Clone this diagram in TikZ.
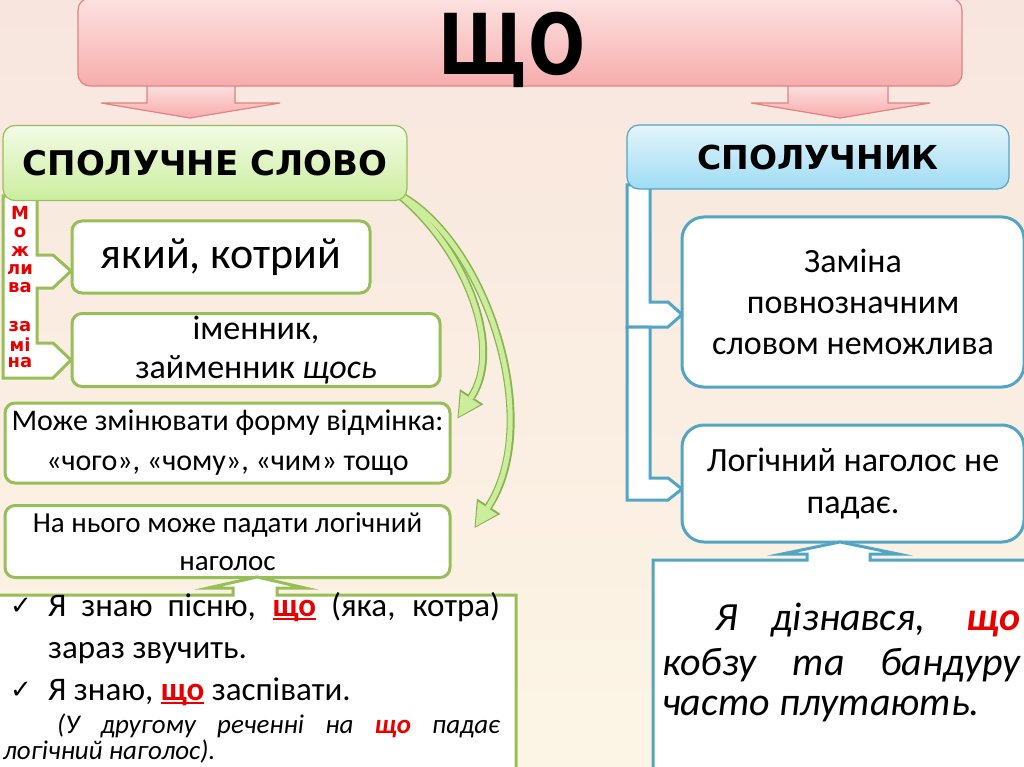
\documentclass[tikz,border=0pt]{standalone}
\usepackage{fontspec}
\setmainfont{Carlito}
\newfontfamily\headfont{DejaVu Sans}
\newfontfamily\checkfont{DejaVu Sans}
\usetikzlibrary{calc,arrows.meta}

\definecolor{bgtop}{RGB}{248,230,222}
\definecolor{bgbot}{RGB}{252,245,229}
\definecolor{pinktop}{RGB}{253,226,226}
\definecolor{pinkbot}{RGB}{247,172,172}
\definecolor{pinkline}{RGB}{226,130,130}
\definecolor{greentop}{RGB}{243,251,230}
\definecolor{greenbot}{RGB}{203,238,158}
\definecolor{greenline}{RGB}{152,190,88}
\definecolor{bendfillc}{RGB}{204,238,156}
\definecolor{bendedgec}{RGB}{138,178,82}
\definecolor{bluetop}{RGB}{228,245,252}
\definecolor{bluebot}{RGB}{158,220,244}
\definecolor{blueline}{RGB}{82,165,196}
\definecolor{shchored}{RGB}{232,0,0}

% red underlined "що"
\newcommand{\redshcho}{\textcolor{shchored}{\bfseries\setbox0\hbox{що}\rlap{\rule[-3.5pt]{\wd0}{1.6pt}}\box0}}

\begin{document}
\begin{tikzpicture}[x=1pt,y=-1pt,
    headbox/.style={rounded corners=12pt,inner sep=0pt,align=center},
    greenbox/.style={draw=greenline,line width=3pt,fill=white,rounded corners=10pt,inner sep=0pt,align=center},
    bluebox/.style={draw=blueline,line width=3pt,fill=white,rounded corners=22pt,inner sep=0pt,align=center},
    redletter/.style={text=shchored,font=\headfont\bfseries\fontsize{18}{18}\selectfont,inner sep=0pt},
    textline/.style={anchor=base west,inner sep=0pt},
    pinkarrow/.style={draw=pinkline,line width=1.2pt,top color=pinktop,bottom color=pinkbot},
    bendedge/.style={draw=bendedgec,line width=8pt,-{Triangle[length=26pt,width=28pt,line width=0pt]}},
    bendfill/.style={draw=bendfillc,line width=5pt,shorten >=2pt,-{Triangle[length=22pt,width=23pt,line width=0pt]}}]
    \useasboundingbox (0,0) rectangle (1024,767);
    \clip (0,0) rectangle (1024,767);
    \shade[top color=bgtop,bottom color=bgbot] (0,0) rectangle (1024,767);

    %% arrows under the title
    \draw[pinkarrow] (147,84) -- (235,84) -- (235,103) -- (280,103) -- (190,118) -- (101,103) -- (147,103) -- cycle;
    \draw[pinkarrow] (788,84) -- (888,84) -- (888,103) -- (930,103) -- (840,118) -- (751,103) -- (788,103) -- cycle;

    \node[headbox,draw=pinkline,line width=1.2pt,top color=pinktop,bottom color=pinkbot,
        minimum width=884pt,minimum height=88pt] (shcho) at (520,42) {};
    \node[anchor=base,inner sep=0pt] (shchotext) at (512,75)
        {\scalebox{0.8}[1]{\headfont\bfseries\fontsize{84}{84}\selectfont ЩО}};

    %% left side
    \draw[greenline,line width=3pt,fill=white] (3,196) -- (37,196) -- (37,255) -- (53,255) -- (71,271) -- (53,288)
        -- (37,288) -- (37,343) -- (53,343) -- (71,360) -- (53,378) -- (3,378) -- cycle;

    \node[greenbox] (vidminok) at (227.5,443) [minimum width=445pt,minimum height=80pt,
        font=\fontsize{30}{40}\selectfont] {Може змінювати форму відмінка:\\«чого», «чому», «чим» тощо};
    \node[greenbox] (naholos) at (227.5,541.5) [minimum width=445pt,minimum height=72pt,
        font=\fontsize{29}{38}\selectfont] {На нього може падати логічний\\наголос};

    \foreach \st in {bendedge,bendfill}{
    \draw[\st] (398,194) .. controls (462,245) and (505,345) .. ($(vidminok.north east)+(6,17)$);
    \draw[\st] (398,194) .. controls (485,240) and (545,420) .. ($(naholos.north east)+(23,24)$);
    }

    \node[headbox,draw=greenline,line width=1.2pt,top color=greentop,bottom color=greenbot,
        minimum width=404pt,minimum height=75pt,font=\headfont\bfseries\fontsize{34}{34}\selectfont]
        (slovo) at (205,163) {СПОЛУЧНЕ СЛОВО};

    \node[redletter] (m1) at (20,213) {М};
    \node[redletter] (m2) at (20,233) {о};
    \node[redletter] (m3) at (20,252) {ж};
    \node[redletter] (m4) at (20,270) {ли};
    \node[redletter] (m5) at (20,288) {ва};
    \node[redletter] (z1) at (20,327) {за};
    \node[redletter] (z2) at (20,345) {мі};
    \node[redletter] (z3) at (20,363) {на};

    \node[greenbox] (yakyi) at (221,257) [minimum width=298pt,minimum height=72pt,
        font=\fontsize{44}{44}\selectfont] {який, котрий};
    \node[greenbox] (imennyk) at (256,350) [minimum width=368pt,minimum height=73pt,
        font=\fontsize{34}{39}\selectfont] {іменник,\\займенник \textit{щось}};

    %% examples, left
    \draw[greenline,line width=3pt,fill=white] (-5,595) -- (233,595) -- (233,588) -- (208,588) -- (257,577)
        -- (305,588) -- (277,588) -- (277,595) -- (516,595) -- (516,790) -- (-5,790) -- cycle;
    \begin{scope}[font=\fontsize{33}{33}\selectfont]
    \node[textline] (c1) at (10,614) {\checkfont\fontsize{26}{26}\selectfont ✓};
    \node[textline] (l1) at (48,616) {\makebox[452pt][s]{Я знаю пісню, \redshcho\ (яка, котра)}};
    \node[textline] (l2) at (48,658) {зараз звучить.};
    \node[textline] (c2) at (10,698) {\checkfont\fontsize{26}{26}\selectfont ✓};
    \node[textline] (l3) at (48,700) {Я знаю, \redshcho\ заспівати.};
    \end{scope}
    \begin{scope}[font=\fontsize{27}{27}\selectfont\itshape]
    \node[textline] (l4) at (57,733) {\makebox[443pt][s]{(У другому реченні на \textcolor{shchored}{\bfseries що} падає}};
    \node[textline] (l5) at (3,759) {логічний наголос).};
    \end{scope}

    %% right side
    \draw[blueline,line width=3pt,fill=white] (627,185) -- (650,185) -- (650,302) -- (668,302) -- (682,314.5)
        -- (668,327) -- (627,327) -- cycle;
    \draw[blueline,line width=3pt,fill=white] (627,327) -- (650,327) -- (650,478) -- (668,478) -- (682,489)
        -- (668,500) -- (627,500) -- cycle;

    \node[headbox,draw=blueline,line width=1.2pt,top color=bluetop,bottom color=bluebot,
        minimum width=382pt,minimum height=64pt,font=\headfont\bfseries\fontsize{33}{33}\selectfont]
        (spoluchnyk) at (818,157) {СПОЛУЧНИК};

    \node[bluebox] (zamina) at (853,302) [minimum width=342pt,minimum height=170pt,
        font=\fontsize{34}{41}\selectfont] {Заміна\\повнозначним\\словом неможлива};
    \node[bluebox] (lognaholos) at (853,483.5) [minimum width=342pt,minimum height=117pt,
        font=\fontsize{34}{42}\selectfont] {Логічний наголос не\\падає.};

    %% example, right
    \draw[blueline,line width=3pt,fill=white] (653,560) -- (807,560) -- (807,554) -- (782,554) -- (840,542)
        -- (898,554) -- (870,554) -- (870,560) -- (1035,560) -- (1035,790) -- (653,790) -- cycle;
    \begin{scope}[font=\fontsize{40}{40}\selectfont\itshape]
    \node[textline] (r1) at (715,630) {\makebox[305pt][s]{Я дізнався, \textcolor{shchored}{\bfseries що}}};
    \node[textline] (r2) at (662,675) {\makebox[358pt][s]{кобзу та бандуру}};
    \node[textline] (r3) at (662,715) {часто плутають.};
    \end{scope}
\end{tikzpicture}
\end{document}
